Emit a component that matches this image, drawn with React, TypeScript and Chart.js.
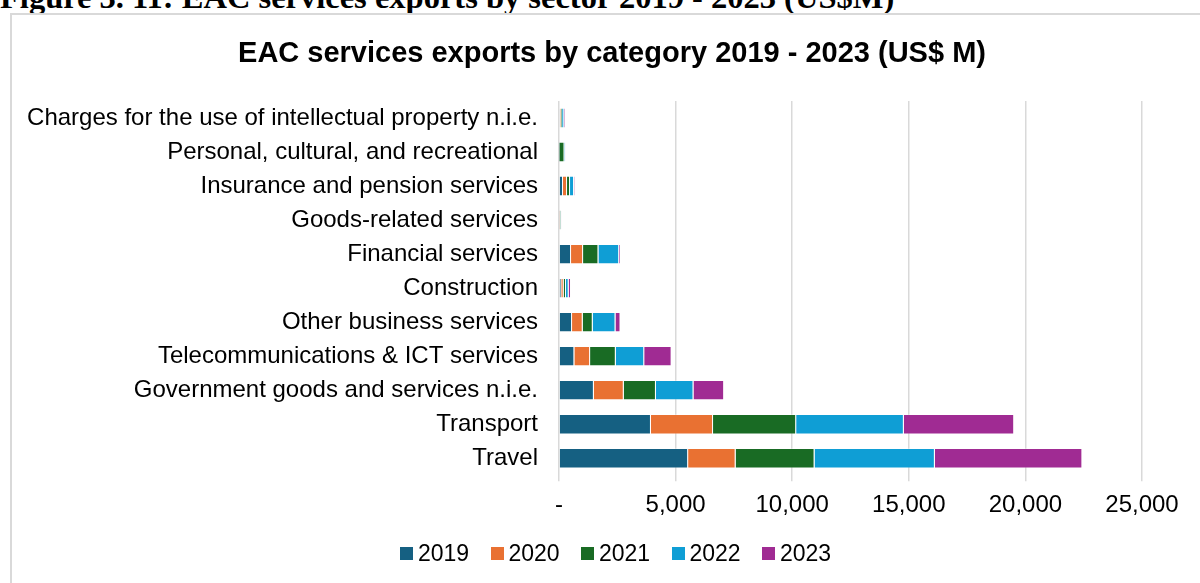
import React, { useEffect, useRef } from "react";
import { Chart, registerables } from "chart.js";

Chart.register(...registerables);

const categories = [
  "Charges for the use of intellectual property n.i.e.",
  "Personal, cultural, and recreational",
  "Insurance and pension services",
  "Goods-related services",
  "Financial services",
  "Construction",
  "Other business services",
  "Telecommunications & ICT services",
  "Government goods and services n.i.e.",
  "Transport",
  "Travel",
];

const years = ["2019", "2020", "2021", "2022", "2023"];

const values2019 = [40, 10, 172, 20, 516, 100, 559, 659, 1495, 3943, 5537];
const values2020 = [35, 5, 172, 20, 516, 100, 458, 674, 1282, 2662, 2037];
const values2021 = [60, 220, 129, 30, 659, 100, 430, 1103, 1380, 3565, 3385];
const values2022 = [90, 40, 172, 20, 888, 115, 975, 1218, 1610, 4617, 5159];
const values2023 = [40, 10, 29, 10, 57, 100, 215, 1175, 1314, 4732, 6325];

const seriesValues = [values2019, values2020, values2021, values2022, values2023];
const seriesColors = ["#156082", "#E97132", "#196B24", "#0F9ED5", "#A02B93"];

const xTicks = [0, 5000, 10000, 15000, 20000, 25000];

const chartTitle = "EAC services exports by category 2019 - 2023 (US$ M)";
const figureCaption = "Figure 3. 11: EAC services exports by sector 2019 - 2023 (US$M)";

const FONT = "'Liberation Sans', Arial, sans-serif";

export default function App() {
  const canvasRef = useRef<HTMLCanvasElement | null>(null);

  useEffect(() => {
    const canvas = canvasRef.current;
    if (!canvas) return;
    const chart = new Chart(canvas, {
      type: "bar",
      data: {
        labels: categories,
        datasets: years.map((y, i) => ({
          label: y,
          data: seriesValues[i],
          backgroundColor: seriesColors[i],
          borderColor: "rgba(255,255,255,0.3)",
          borderWidth: 1,
          barPercentage: 0.6,
          categoryPercentage: 1,
        })),
      },
      options: {
        indexAxis: "y",
        animation: false,
        responsive: false,
        maintainAspectRatio: false,
        layout: { padding: { left: 0, right: 70, top: 86, bottom: 75 } },
        plugins: {
          title: { display: false },
          legend: { display: false },
          tooltip: { enabled: false },
        },
        scales: {
          x: {
            stacked: true,
            min: 0,
            max: 25000,
            afterBuildTicks: (axis: any) => {
              axis.ticks = xTicks.map((v) => ({ value: v }));
            },
            ticks: {
              color: "#000",
              font: { family: FONT, size: 24 },
              padding: 10,
              callback: (v: any) => (Number(v) === 0 ? "-" : Number(v).toLocaleString("en-US")),
            },
            grid: { color: "#d9d9d9", lineWidth: 1.5, tickLength: 6, drawTicks: true },
            border: { display: false },
          },
          y: {
            stacked: true,
            afterFit: (axis: any) => {
              axis.width = 547;
            },
            ticks: {
              color: "#000",
              font: { family: FONT, size: 24 },
              padding: 21,
            },
            grid: { display: false, drawTicks: false },
            border: { display: false },
          },
        },
      },
    });
    return () => chart.destroy();
  }, []);

  return (
    <div
      style={{
        position: "fixed",
        left: 0,
        top: 0,
        width: 1200,
        height: 583,
        overflow: "hidden",
        background: "#fff",
      }}
    >
      <div
        style={{
          position: "absolute",
          left: 0,
          top: -19,
          fontFamily: "'Liberation Serif', 'Times New Roman', serif",
          fontWeight: "bold",
          fontSize: 32.5,
          lineHeight: "32.5px",
          whiteSpace: "nowrap",
          color: "#000",
        }}
      >
        {figureCaption}
      </div>
      <div
        style={{
          position: "absolute",
          left: 10,
          top: 13,
          width: 1204,
          height: 600,
          border: "2px solid #d9d9d9",
          boxSizing: "border-box",
          background: "#fff",
        }}
      >
        <canvas ref={canvasRef} width={1200} height={590} style={{ display: "block" }} />
      </div>
      <div
        style={{
          position: "absolute",
          left: 612,
          top: 35,
          transform: "translateX(-50%)",
          fontFamily: FONT,
          fontWeight: "bold",
          fontSize: 29,
          lineHeight: "34px",
          whiteSpace: "nowrap",
          color: "#000",
        }}
      >
        {chartTitle}
      </div>
      <div
        style={{
          position: "absolute",
          left: 400,
          top: 540,
          height: 26,
          display: "flex",
          alignItems: "center",
          fontFamily: FONT,
          fontSize: 23,
          lineHeight: "26px",
          color: "#000",
          whiteSpace: "nowrap",
        }}
      >
        {years.map((y, i) => (
          <div key={y} style={{ display: "flex", alignItems: "center", width: 90.5 }}>
            <span
              style={{
                display: "inline-block",
                width: 13,
                height: 13,
                background: seriesColors[i],
                marginRight: 5,
              }}
            />
            <span>{y}</span>
          </div>
        ))}
      </div>
    </div>
  );
}
